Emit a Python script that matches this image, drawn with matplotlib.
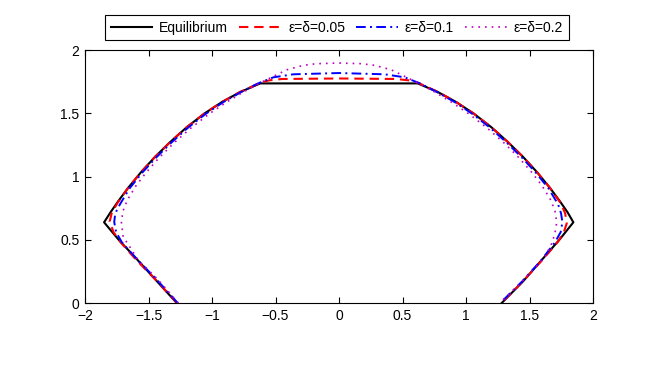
import matplotlib
matplotlib.use('Agg')
import matplotlib.pyplot as plt

plt.rcParams['font.family'] = ['Liberation Sans', 'DejaVu Sans']

labels = ['Equilibrium', 'ε=δ=0.05', 'ε=δ=0.1', 'ε=δ=0.2']

# equilibrium shape
x_eq = [-1.278, -1.45, -1.60, -1.735, -1.85, -1.80, -1.74, -1.66, -1.56, -1.45, -1.33,
        -1.20, -1.06, -0.92, -0.78, -0.62, 0.62, 0.78, 0.92, 1.06, 1.20, 1.33, 1.45,
        1.56, 1.66, 1.74, 1.80, 1.845, 1.735, 1.60, 1.45, 1.281]
y_eq = [0.0, 0.19, 0.355, 0.50, 0.638, 0.716, 0.803, 0.911, 1.033, 1.154, 1.272,
        1.389, 1.498, 1.590, 1.667, 1.736, 1.736, 1.667, 1.590, 1.498, 1.389, 1.272, 1.154,
        1.033, 0.911, 0.803, 0.716, 0.638, 0.50, 0.345, 0.172, 0.0]

# eps = delta = 0.05
x_05 = [-1.275, -1.45, -1.596, -1.72, -1.775, -1.806, -1.79, -1.745, -1.66, -1.56, -1.45,
        -1.33, -1.20, -1.06, -0.92, -0.78, -0.62, -0.55, -0.45, 0.0, 0.45, 0.55, 0.62,
        0.78, 0.92, 1.06, 1.20, 1.33, 1.45, 1.56, 1.66, 1.745, 1.78, 1.793, 1.77, 1.72,
        1.596, 1.445, 1.278]
y_05 = [0.0, 0.19, 0.34, 0.48, 0.56, 0.643, 0.71, 0.79, 0.911, 1.033, 1.154,
        1.272, 1.389, 1.498, 1.590, 1.668, 1.742, 1.760, 1.771, 1.775, 1.771, 1.760, 1.742,
        1.668, 1.590, 1.498, 1.389, 1.272, 1.154, 1.033, 0.911, 0.79, 0.71, 0.63, 0.56, 0.48,
        0.335, 0.169, 0.0]

# eps = delta = 0.1
x_10 = [-1.27, -1.44, -1.59, -1.71, -1.755, -1.77, -1.762, -1.725, -1.65, -1.55, -1.44,
        -1.32, -1.19, -1.05, -0.91, -0.77, -0.64, -0.517, -0.36, 0.0, 0.36, 0.517, 0.64,
        0.77, 0.91, 1.05, 1.19, 1.32, 1.44, 1.55, 1.65, 1.725, 1.748, 1.759, 1.745, 1.70,
        1.59, 1.44, 1.27]
y_10 = [0.0, 0.19, 0.345, 0.48, 0.56, 0.64, 0.709, 0.78, 0.905, 1.03, 1.15,
        1.268, 1.385, 1.495, 1.589, 1.668, 1.735, 1.784, 1.808, 1.818, 1.808, 1.784, 1.735,
        1.668, 1.589, 1.495, 1.385, 1.268, 1.15, 1.03, 0.905, 0.78, 0.709, 0.638, 0.56, 0.48,
        0.335, 0.169, 0.0]

# eps = delta = 0.2
x_20 = [-1.265, -1.43, -1.583, -1.648, -1.70, -1.714, -1.70, -1.667, -1.60, -1.52, -1.42,
        -1.30, -1.17, -1.03, -0.89, -0.75, -0.62, -0.49, -0.41, -0.28, -0.176, 0.0, 0.176,
        0.28, 0.41, 0.49, 0.62, 0.75, 0.89, 1.03, 1.17, 1.30, 1.42, 1.52, 1.60, 1.667,
        1.70, 1.714, 1.70, 1.675, 1.622, 1.44, 1.265]
y_20 = [0.0, 0.19, 0.34, 0.445, 0.524, 0.643, 0.73, 0.814, 0.925, 1.03, 1.145,
        1.265, 1.38, 1.49, 1.585, 1.67, 1.74, 1.805, 1.844, 1.879, 1.892, 1.897, 1.892,
        1.879, 1.844, 1.805, 1.74, 1.67, 1.585, 1.49, 1.38, 1.265, 1.145, 1.03, 0.925, 0.814,
        0.73, 0.638, 0.55, 0.472, 0.366, 0.169, 0.0]

fig = plt.figure(figsize=(6.54, 3.68), dpi=100)
ax = fig.add_axes([0.130, 0.1766, 0.7768, 0.6875])

ax.plot(x_eq, y_eq, color='k', lw=1.5, label=labels[0])
ax.plot(x_05, y_05, color='r', lw=1.5, ls=(0, (4.5, 2.8)), label=labels[1])
ax.plot(x_10, y_10, color='b', lw=1.4, ls=(0, (5, 2.2, 1, 2.2)), label=labels[2])
ax.plot(x_20, y_20, color='m', lw=1.2, ls=(0, (1, 3)), label=labels[3])

ax.set_xlim(-2, 2)
ax.set_ylim(0, 2)
ax.set_xticks([-2, -1.5, -1, -0.5, 0, 0.5, 1, 1.5, 2])
ax.set_yticks([0, 0.5, 1, 1.5, 2])
ax.set_xticklabels(['−2', '−1.5', '−1', '−0.5', '0', '0.5', '1', '1.5', '2'])
ax.set_yticklabels(['0', '0.5', '1', '1.5', '2'])
ax.tick_params(direction='in', top=True, right=True, length=4, width=0.8,
               labelsize=10, pad=4)
for s in ax.spines.values():
    s.set_linewidth(0.8)

leg = fig.legend(loc='center', bbox_to_anchor=(0.515, 0.925), ncol=4, fontsize=10,
                 frameon=True, fancybox=False, edgecolor='k', framealpha=1,
                 handlelength=3.0, handletextpad=0.5, columnspacing=0.8,
                 borderpad=0.4)
leg.get_frame().set_linewidth(0.8)

fig.savefig('out.png', dpi=100)
